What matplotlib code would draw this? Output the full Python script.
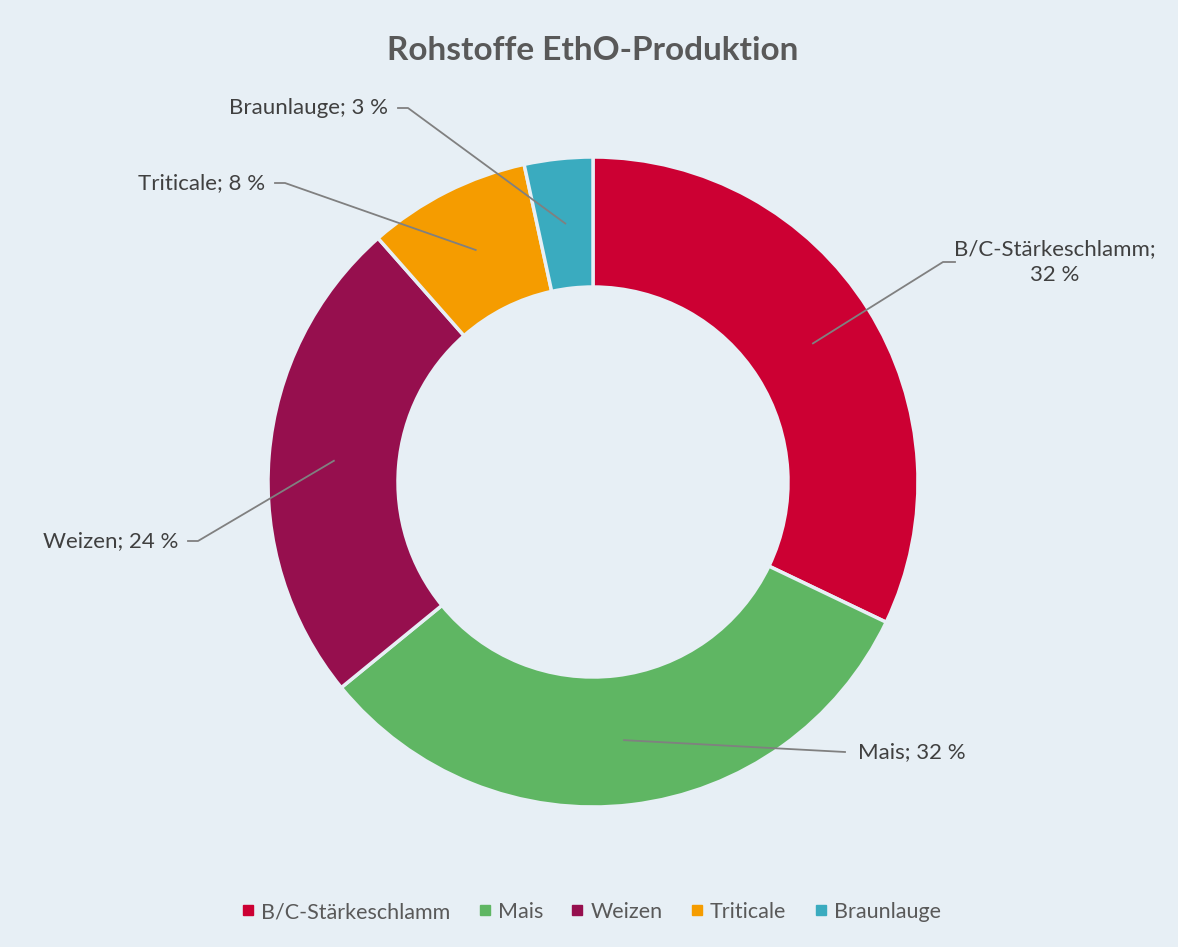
import numpy as np
import matplotlib
matplotlib.use("Agg")
import matplotlib.pyplot as plt
from matplotlib.lines import Line2D

names = ["B/C-Stärkeschlamm", "Mais", "Weizen", "Triticale", "Braunlauge"]
values = [32.1, 32.0, 24.4, 8.1, 3.4]
colors = ["#CC0033", "#5FB663", "#960F4E", "#F59C00", "#3AABBF"]
labels = ["B/C-Stärkeschlamm;\n%.0f %%" % values[0], "Mais; %.0f %%" % values[1],
          "Weizen; %.0f %%" % values[2], "Triticale; %.0f %%" % values[3],
          "Braunlauge; %.0f %%" % values[4]]

bg = "#E7EFF5"
plt.rcParams["font.family"] = ["Lato", "DejaVu Sans"]

W, H = 1178, 947
cx, cy, R = 593, 465, 325  # pixel centre (from bottom) and outer radius

fig = plt.figure(figsize=(W/100, H/100), dpi=100, facecolor=bg)
ax = fig.add_axes([0, 0, 1, 1])
ax.set_facecolor(bg)

wedges, _ = ax.pie(values, colors=colors, startangle=90, counterclock=False,
                   radius=1, wedgeprops=dict(width=0.4, edgecolor=bg, linewidth=2.5))
ax.set_aspect("auto")
ax.set_xlim(-cx/R, (W-cx)/R)
ax.set_ylim(-cy/R, (H-cy)/R)
ax.axis("off")

# label positions in pixels (x, y from top), text alignment
lab_pos = [(1055, 262, "center"), (858, 752, "left"), (178, 541, "right"),
           (265, 183, "right"), (388, 108, "right")]
elbow = [(943, 262, 955), (845, 752, 845), (198, 541, 188),
         (285, 183, 275), (408, 108, 398)]

def px(x, y):
    return (x - cx)/R, (H - y - cy)/R

for w, lab, (tx, ty, ha), (ex, ey, ex2) in zip(wedges, labels, lab_pos, elbow):
    ang = np.deg2rad((w.theta1 + w.theta2)/2)
    p0 = (0.8*np.cos(ang), 0.8*np.sin(ang))
    p1 = px(ex, ey)
    p2 = px(ex2, ey)
    ax.plot([p0[0], p1[0], p2[0]], [p0[1], p1[1], p2[1]], color="#808080", lw=1.3)
    x, y = px(tx, ty)
    ax.text(x, y, lab, ha=ha, va="center", fontsize=16, color="#404040",
            linespacing=1.35)

fig.text(593/W, 1 - 50/H, "Rohstoffe EthO-Produktion", ha="center", va="center",
         fontsize=24, fontweight="bold", color="#595959")

handles = [Line2D([], [], marker="s", ls="", color=c, markersize=7) for c in colors]
fig.legend(handles, names, loc="center", bbox_to_anchor=(0.5, 1 - 912/H), ncol=5,
           frameon=False, fontsize=15.5, labelcolor="#595959", handletextpad=0.1,
           columnspacing=1.1, handlelength=1.0)

fig.savefig("out.png", dpi=100, facecolor=bg)
